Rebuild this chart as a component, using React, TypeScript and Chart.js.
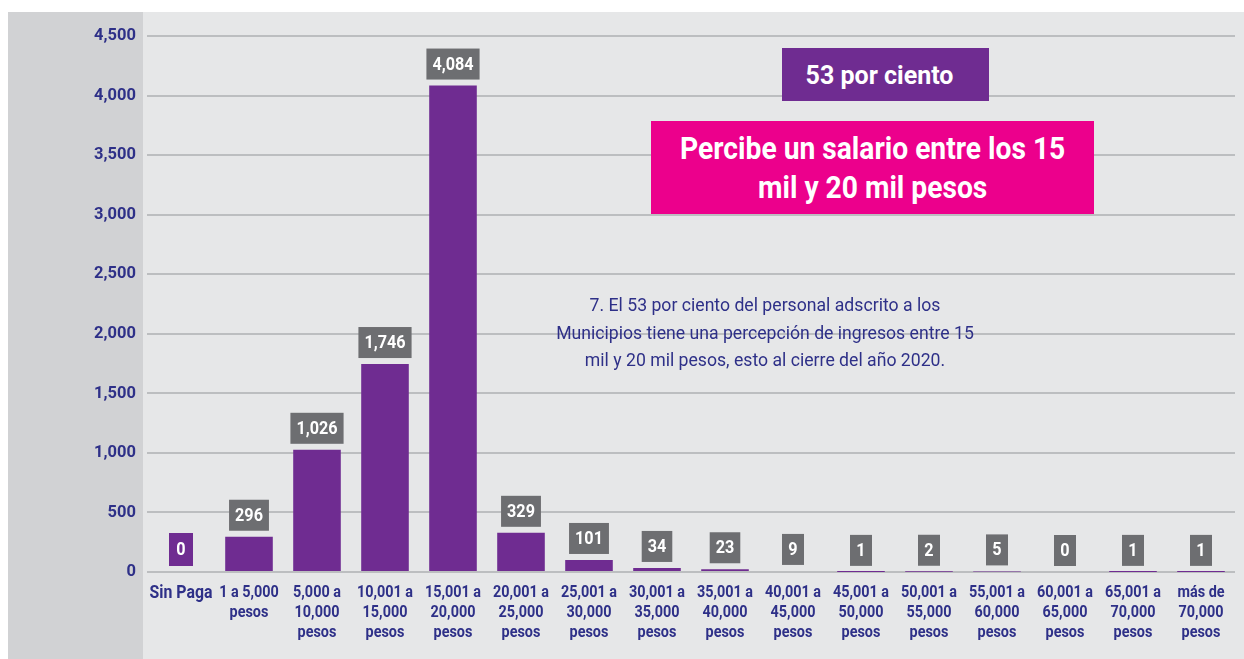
import React, { useEffect, useRef } from "react";
import { Chart, registerables } from "chart.js";

Chart.register(...registerables);

const categories: string[][] = [
  ["Sin Paga"],
  ["1 a 5,000", "pesos"],
  ["5,000 a", "10,000", "pesos"],
  ["10,001 a", "15,000", "pesos"],
  ["15,001 a", "20,000", "pesos"],
  ["20,001 a", "25,000", "pesos"],
  ["25,001 a", "30,000", "pesos"],
  ["30,001 a", "35,000", "pesos"],
  ["35,001 a", "40,000", "pesos"],
  ["40,001 a", "45,000", "pesos"],
  ["45,001 a", "50,000", "pesos"],
  ["50,001 a", "55,000", "pesos"],
  ["55,001 a", "60,000", "pesos"],
  ["60,001 a", "65,000", "pesos"],
  ["65,001 a", "70,000", "pesos"],
  ["más de", "70,000", "pesos"],
];

const personal: number[] = [0, 296, 1026, 1746, 4084, 329, 101, 34, 23, 9, 1, 2, 5, 0, 1, 1];

const yTicks: number[] = [0, 500, 1000, 1500, 2000, 2500, 3000, 3500, 4000, 4500];

const highlightText = "53 por ciento";
const calloutLines: string[] = ["Percibe un salario entre los 15", "mil y 20 mil pesos"];
const noteLines: string[] = [
  "7. El 53 por ciento del personal adscrito a los",
  "Municipios tiene una percepción de ingresos entre 15",
  "mil y 20 mil pesos, esto al cierre del año 2020.",
];

const FONT = 'Roboto, "Noto Sans", sans-serif';
const NAVY = "#2e3088";
const PURPLE = "#6f2c91";
const PINK = "#ec008c";
const LABEL_GRAY = "#6d6e71";

function drawCondensed(ctx: CanvasRenderingContext2D, text: string, x: number, y: number, sx: number) {
  ctx.save();
  ctx.translate(x, y);
  ctx.scale(sx, 1);
  ctx.fillText(text, 0, 0);
  ctx.restore();
}

const textPlugin = {
  id: "condensedText",
  afterDraw(chart: any) {
    const ctx: CanvasRenderingContext2D = chart.ctx;
    const xs = chart.scales.x;
    const ys = chart.scales.y;
    const area = chart.chartArea;
    ctx.save();
    ctx.fillStyle = NAVY;
    ctx.textBaseline = "middle";
    // y tick labels
    ctx.textAlign = "right";
    ctx.font = `bold 17px ${FONT}`;
    ys.ticks.forEach((t: any) => {
      drawCondensed(ctx, Number(t.value).toLocaleString("en-US"), area.left - 11, ys.getPixelForValue(t.value), 0.97);
    });
    // x tick labels
    ctx.textAlign = "center";
    categories.forEach((lines, i) => {
      const x = xs.getPixelForTick(i);
      ctx.font = i === 0 ? `bold 18px ${FONT}` : `bold 16px ${FONT}`;
      lines.forEach((line, j) => {
        drawCondensed(ctx, line, x, area.bottom + 21 + j * 20, i === 0 ? 0.88 : 0.9);
      });
    });
    ctx.restore();
  },
  afterDatasetsDraw(chart: any) {
    const ctx: CanvasRenderingContext2D = chart.ctx;
    const meta = chart.getDatasetMeta(0);
    ctx.save();
    ctx.font = `bold 18px ${FONT}`;
    ctx.textAlign = "center";
    ctx.textBaseline = "middle";
    meta.data.forEach((bar: any, i: number) => {
      const v = personal[i];
      const text = v.toLocaleString("en-US");
      const sx = 0.9;
      const tw = ctx.measureText(text).width * sx;
      const w = Math.max(tw + 12, i === 0 ? 24 : 22);
      const h = i === 0 ? 33 : 31;
      const bottom = bar.y - 6;
      const top = bottom - h;
      ctx.fillStyle = i === 0 ? PURPLE : LABEL_GRAY;
      ctx.fillRect(bar.x - w / 2, top, w, h);
      ctx.fillStyle = "#ffffff";
      drawCondensed(ctx, text, bar.x, top + h / 2 + 1, sx);
    });
    ctx.restore();
  },
};

export default function App() {
  const canvasRef = useRef<HTMLCanvasElement | null>(null);

  useEffect(() => {
    if (!canvasRef.current) return;
    const chart = new Chart(canvasRef.current, {
      type: "bar",
      data: {
        labels: categories,
        datasets: [
          {
            data: personal,
            backgroundColor: PURPLE,
            barPercentage: 0.7,
            categoryPercentage: 1,
          },
        ],
      },
      options: {
        responsive: false,
        animation: false,
        layout: { padding: { top: 36, right: 9, left: 0, bottom: 0 } },
        plugins: { legend: { display: false }, tooltip: { enabled: false } },
        scales: {
          x: {
            grid: { display: false },
            border: { display: false },
            ticks: { display: false, autoSkip: false },
            afterFit: (s: any) => {
              s.height = 87;
            },
          },
          y: {
            min: 0,
            max: 4500,
            afterBuildTicks: (s: any) => {
              s.ticks = yTicks.map((v) => ({ value: v }));
            },
            grid: { color: "#bcbec0", lineWidth: 2, drawTicks: false },
            border: { display: false },
            ticks: { display: false },
            afterFit: (s: any) => {
              s.width = 147;
            },
          },
        },
      },
      plugins: [textPlugin],
    });
    return () => chart.destroy();
  }, []);

  return (
    <div style={{ position: "absolute", left: 0, top: 0, width: 1244, height: 659, background: "#ffffff", overflow: "hidden" }}>
      <div style={{ position: "absolute", left: 8, top: 12, width: 1236, height: 647, background: "#e6e7e8" }} />
      <div style={{ position: "absolute", left: 8, top: 12, width: 135, height: 647, background: "#d1d2d4" }} />
      <canvas ref={canvasRef} width={1244} height={659} style={{ position: "absolute", left: 0, top: 0 }} />
      <div
        style={{
          position: "absolute", left: 782, top: 48, width: 207, height: 53, background: PURPLE,
          color: "#fff", fontFamily: FONT, fontWeight: "bold", fontSize: 25,
          display: "flex", alignItems: "center", justifyContent: "center",
        }}
      >
        <span style={{ display: "inline-block", whiteSpace: "nowrap", marginLeft: -12, marginTop: 2 }}>
          {highlightText}
        </span>
      </div>
      <div
        style={{
          position: "absolute", left: 651, top: 121, width: 443, height: 93, background: PINK,
          color: "#fff", fontFamily: FONT, fontWeight: "bold", fontSize: 31, lineHeight: "39px",
          display: "flex", alignItems: "center", justifyContent: "center",
        }}
      >
        <div style={{ transform: "scaleX(0.91)", whiteSpace: "nowrap", textAlign: "center", marginTop: 0 }}>
          {calloutLines.map((l) => (
            <div key={l}>{l}</div>
          ))}
        </div>
      </div>
      <div
        style={{
          position: "absolute", left: 465, top: 291, width: 600, color: NAVY, fontFamily: FONT,
          fontSize: 18, lineHeight: "27.5px", textAlign: "center", whiteSpace: "nowrap",
          transform: "scaleX(0.98)",
        }}
      >
        {noteLines.map((l) => (
          <div key={l}>{l}</div>
        ))}
      </div>
    </div>
  );
}
